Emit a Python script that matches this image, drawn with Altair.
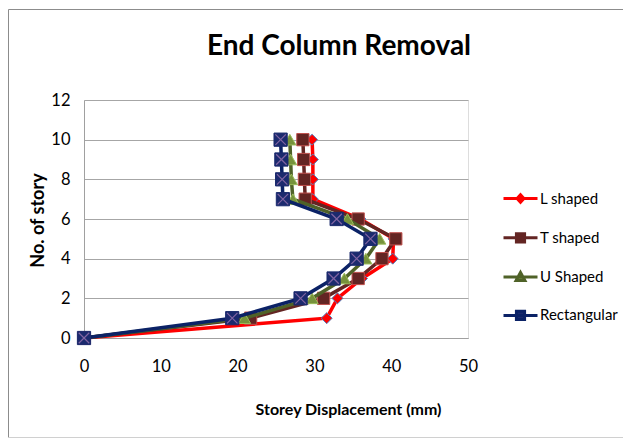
import altair as alt
import pandas as pd

stories = [0, 1, 2, 3, 4, 5, 6, 7, 8, 9, 10]
series_names = ["L shaped", "T shaped", "U Shaped", "Rectangular"]
l_shaped = [0, 31.6, 33.0, 36.2, 40.2, 40.3, 36.0, 29.8, 29.8, 29.8, 29.7]
t_shaped = [0, 21.7, 31.2, 35.7, 38.8, 40.6, 35.7, 28.8, 28.7, 28.6, 28.5]
u_shaped = [0, 20.9, 29.7, 33.9, 36.7, 38.5, 34.3, 27.2, 27.0, 26.9, 26.8]
rectangular = [0, 19.3, 28.2, 32.5, 35.5, 37.3, 32.9, 25.9, 25.8, 25.7, 25.6]
x_ticks = [0, 10, 20, 30, 40, 50]
y_ticks = [0, 2, 4, 6, 8, 10, 12]

values = [l_shaped, t_shaped, u_shaped, rectangular]
rows = []
for name, vals in zip(series_names, values):
    for s, v in zip(stories, vals):
        rows.append({"series": name, "story": s, "disp": v})
df = pd.DataFrame(rows)

line_colors = ["#FF0000", "#632523", "#4F6228", "#0B2266"]
marker_fills = ["#FF0000", "#632523", "#76923C", "#1B2A6E"]
marker_strokes = ["#4F81BD", "#C0504D", "#9BBB59", "#1B2A6E"]
marker_shapes = ["diamond", "square", "triangle-up", "square"]
marker_sizes = [120, 150, 150, 175]

legend_paths = [
    "M-1,0H1M0,-0.22L0.2,0L0,0.22L-0.2,0Z",
    "M-1,0H1M-0.24,-0.24H0.24V0.24H-0.24Z",
    "M-1,0H1M0,-0.28L0.26,0.2H-0.26Z",
    "M-1,0H1M-0.24,-0.24H0.24V0.24H-0.24Z",
]

FONT = "Lato"
W, H = 384, 238

xs = alt.Scale(domain=[0, 50], nice=False)
ys = alt.Scale(domain=[0, 12], nice=False)

x_axis = alt.Axis(values=x_ticks, grid=False, ticks=False, domainColor="#A0A0A0",
                  labelFlush=False,
                  labelFont=FONT, labelFontSize=16.5, labelColor="#000000", labelPadding=20,
                  title="Storey Displacement (mm)", titleFont=FONT, titleFontSize=16,
                  titleFontWeight="bold", titleColor="#000000", titleX=264, titleY=76,
                  titleAlign="center", titleBaseline="alphabetic")
y_axis = alt.Axis(values=y_ticks, grid=True, gridColor="#A6A6A6", ticks=False,
                  domainColor="#A0A0A0", labelFlush=False, labelFont=FONT, labelFontSize=16.5,
                  labelColor="#000000", labelPadding=14,
                  title="No. of story", titleFont=FONT, titleFontSize=18,
                  titleFontWeight="bold", titleColor="#000000", titleAngle=270,
                  titleX=-41, titleY=120, titleAlign="center", titleBaseline="alphabetic")

X = alt.X("disp:Q", scale=xs, axis=x_axis)
Y = alt.Y("story:Q", scale=ys, axis=y_axis)

layers = []
for i, name in enumerate(series_names):
    sub = df[df["series"] == name]
    layers.append(alt.Chart(sub).mark_line(color=line_colors[i], strokeWidth=3.5).encode(
        x=X, y=Y, order="story:Q"))
    layers.append(alt.Chart(sub).mark_point(shape=marker_shapes[i], filled=True, fill=marker_fills[i],
                                            stroke=marker_strokes[i], strokeWidth=1, opacity=1,
                                            size=marker_sizes[i]).encode(x=X, y=Y))
    if name == "Rectangular":
        layers.append(alt.Chart(sub).mark_point(shape="M-1,-1L1,1M1,-1L-1,1", filled=False,
                                                stroke="#8064A2", strokeWidth=1.2, opacity=1,
                                                size=110).encode(x=X, y=Y))

leg = alt.Legend(orient="none", legendX=418, legendY=80, title=None,
                 labelFont=FONT, labelFontSize=15, labelColor="#000000",
                 labelOffset=1, symbolSize=1156, symbolStrokeWidth=3,
                 rowPadding=10.3, padding=0, symbolOpacity=1)
legend_layer = alt.Chart(df).transform_filter("false").mark_point(
    filled=False, strokeWidth=3, opacity=1, size=1156).encode(
    x=X, y=Y,
    color=alt.Color("series:N", scale=alt.Scale(domain=series_names, range=line_colors), legend=leg),
    fill=alt.Fill("series:N", scale=alt.Scale(domain=series_names, range=marker_fills), legend=leg),
    shape=alt.Shape("series:N", scale=alt.Scale(domain=series_names, range=legend_paths), legend=leg),
)
layers.append(legend_layer)

one = alt.Data(values=[{"t": "End Column Removal"}])
title_layer = alt.Chart(one).mark_text(font=FONT, fontSize=28, fontWeight="bold", color="#000000",
                                       align="center", baseline="alphabetic").encode(
    text="t:N", x=alt.value(255), y=alt.value(-45))
layers.append(title_layer)

frame_color = "#8C8C8C"
frame_left = alt.Chart(one).mark_rule(color=frame_color, strokeWidth=1).encode(
    x=alt.value(-75.5), y=alt.value(-90.5), y2=alt.value(337.5))
frame_top = alt.Chart(one).mark_rule(color=frame_color, strokeWidth=1).encode(
    x=alt.value(-75.5), x2=alt.value(540), y=alt.value(-90.5))
frame_bottom = alt.Chart(one).mark_rule(color="#D0D0D0", strokeWidth=1).encode(
    x=alt.value(-75.5), x2=alt.value(540), y=alt.value(337.5))
layers += [frame_left, frame_top, frame_bottom]

chart = alt.layer(*layers).properties(
    width=W, height=H,
    autosize=alt.AutoSizeParams(type="none"),
    padding={"left": 76, "top": 92, "right": 155, "bottom": 101},
).configure_view(stroke=None).configure(background="white")

chart.save("out.html", embed_options={"renderer": "svg", "actions": False})
